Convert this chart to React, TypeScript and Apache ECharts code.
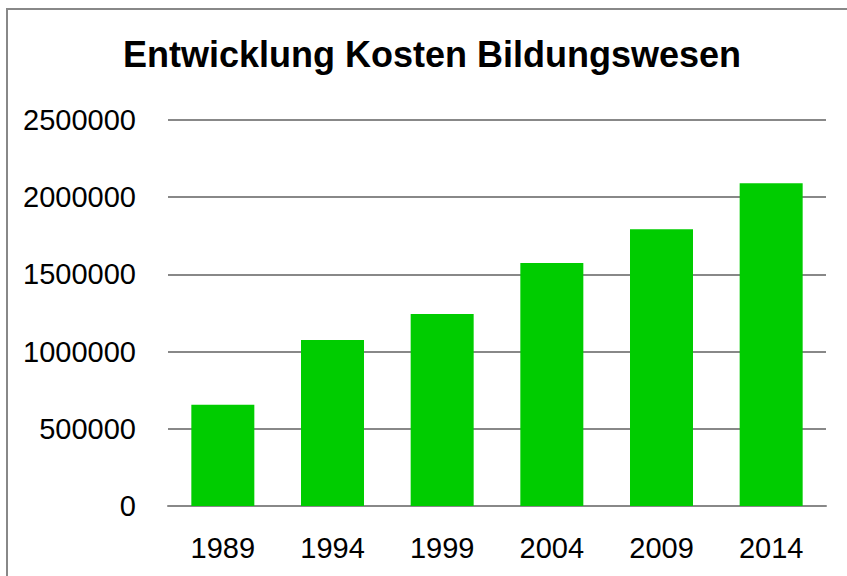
import React, { useEffect, useRef } from "react";
import * as echarts from "echarts";

const titleText = "Entwicklung Kosten Bildungswesen";
const categories = ["1989", "1994", "1999", "2004", "2009", "2014"];
const costs = [656000, 1075000, 1243000, 1574000, 1792000, 2090000];
const yMin = 0;
const yMax = 2500000;
const yStep = 500000;

export default function App() {
  const ref = useRef<HTMLDivElement>(null);
  useEffect(() => {
    if (!ref.current) return;
    const chart = echarts.init(ref.current, null, { renderer: "svg" });
    const font = "'Liberation Sans', Arial, sans-serif";
    chart.setOption({
      animation: false,
      backgroundColor: "#ffffff",
      title: {
        text: titleText,
        left: 427,
        top: 31,
        textAlign: "center",
        textStyle: {
          fontFamily: font,
          fontWeight: "bold",
          fontSize: 36,
          color: "#000000",
        },
      },
      graphic: [
        {
          type: "line",
          shape: { x1: 6, y1: 9, x2: 847, y2: 9 },
          style: { stroke: "#888888", lineWidth: 2 },
          silent: true,
        },
        {
          type: "line",
          shape: { x1: 7, y1: 8, x2: 7, y2: 576 },
          style: { stroke: "#888888", lineWidth: 2 },
          silent: true,
        },
      ],
      grid: { left: 168, right: 21, top: 120, bottom: 70, containLabel: false },
      xAxis: {
        type: "category",
        data: categories,
        axisLine: { show: true, lineStyle: { color: "#888888", width: 2 } },
        axisTick: { show: false },
        axisLabel: {
          color: "#000000",
          fontFamily: font,
          fontSize: 29,
          lineHeight: 29,
          margin: 27,
        },
      },
      yAxis: {
        type: "value",
        min: yMin,
        max: yMax,
        interval: yStep,
        axisLine: { show: false },
        axisTick: { show: false },
        splitLine: { show: true, lineStyle: { color: "#888888", width: 2 } },
        axisLabel: {
          color: "#000000",
          fontFamily: font,
          fontSize: 29,
          margin: 32,
          formatter: (v: number) => String(v),
        },
      },
      series: [
        {
          type: "bar",
          data: costs,
          barWidth: 63,
          itemStyle: { color: "#00CC00" },
        },
      ],
    });
    return () => chart.dispose();
  }, []);
  return (
    <div
      ref={ref}
      style={{ position: "absolute", left: 0, top: 0, width: 847, height: 576 }}
    />
  );
}
